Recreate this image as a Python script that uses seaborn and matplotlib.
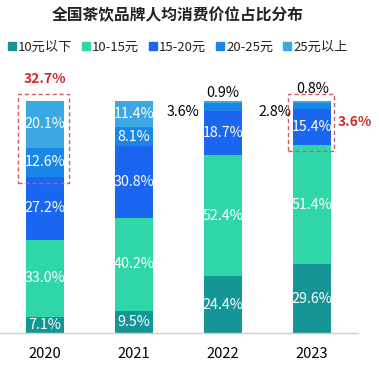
import matplotlib
matplotlib.use("Agg")
import matplotlib.pyplot as plt
from matplotlib.lines import Line2D
from matplotlib.patches import Rectangle
import seaborn as sns
import numpy as np

years = ["2020", "2021", "2022", "2023"]
series_names = ["10元以下", "10-15元", "15-20元", "20-25元", "25元以上"]
s_under10 = [7.1, 9.5, 24.4, 29.6]
s_10_15 = [33.0, 40.2, 52.4, 51.4]
s_15_20 = [27.2, 30.8, 18.7, 15.4]
s_20_25 = [12.6, 8.1, 3.6, 2.8]
s_over25 = [20.1, 11.4, 0.9, 0.8]
colors = ["#159596", "#2fd6a8", "#1a66f0", "#1a86e8", "#3ba7e3"]
highlight_labels = ["32.7%", "3.6%"]

sns.set_theme(style="white")
plt.rcParams['font.family'] = ['Noto Sans CJK SC', 'DejaVu Sans']

fig = plt.figure(figsize=(3.79, 3.65), dpi=100)
ax = fig.add_axes([0.0, 32/365, 358/379, 232/365])

data = [s_under10, s_10_15, s_15_20, s_20_25, s_over25]
bottom = np.zeros(len(years))
for name, vals, c in zip(series_names, data, colors):
    sns.barplot(x=years, y=vals, bottom=bottom, color=c, width=0.43,
                ax=ax, saturation=1, linewidth=0)
    for i, (v, b) in enumerate(zip(vals, bottom)):
        if v >= 5:
            ax.text(i, b + v / 2, f"{v:.1f}%", ha="center", va="center",
                    color="white", fontsize=10.3)
    bottom = bottom + np.array(vals)

# small outside labels
ax.text(2, 103.4, f"{s_over25[2]:.1f}%", ha="center", va="center", color="black", fontsize=10.3)
ax.text(1.55, 95.3, f"{s_20_25[2]:.1f}%", ha="center", va="center", color="black", fontsize=10.3)
ax.text(3.01, 105.0, f"{s_over25[3]:.1f}%", ha="center", va="center", color="black", fontsize=10.3)
ax.text(2.58, 95.3, f"{s_20_25[3]:.1f}%", ha="center", va="center", color="black", fontsize=10.3)

# highlights
ax.text(0, 109.5, highlight_labels[0], ha="center", va="center", color="#d42a2a",
        fontsize=10, fontweight="bold")
ax.text(3.48, 91.0, highlight_labels[1], ha="center", va="center", color="#d42a2a",
        fontsize=10, fontweight="bold")
ax.add_patch(Rectangle((-0.30, 64.8), 0.57, 38.2, fill=False, ec="#d05a6a",
                       ls=(0, (3, 2)), lw=1.0, clip_on=False))
ax.add_patch(Rectangle((3 - 0.27, 78.4), 0.52, 24.6, fill=False, ec="#d05a6a",
                       ls=(0, (3, 2)), lw=1.0, clip_on=False))

ax.set_xlim(-0.506, 3.517)
ax.set_ylim(0, 100)
ax.set_yticks([])
ax.set_xlabel("")
ax.set_ylabel("")
for sp in ["top", "right", "left"]:
    ax.spines[sp].set_visible(False)
ax.spines["bottom"].set_color("#d0d0d0")
ax.spines["bottom"].set_linewidth(1.0)
ax.tick_params(axis="x", length=0, labelsize=10.5, colors="black", pad=10)

fig.text(0.47, 1 - 15/365, "全国茶饮品牌人均消费价位占比分布", ha="center", va="center",
         fontsize=11.3, fontweight="bold", color="#222222")

handles = [Line2D([0], [0], marker="s", ls="", color=c, markersize=5.5) for c in colors]
fig.legend(handles, series_names, loc="center", bbox_to_anchor=(0.47, 1 - 47/365),
           ncol=5, frameon=False, fontsize=9.5, handlelength=0.5, handletextpad=0.2,
           columnspacing=0.8, borderaxespad=0, labelcolor="#222222")

fig.savefig("out.png", dpi=100)
